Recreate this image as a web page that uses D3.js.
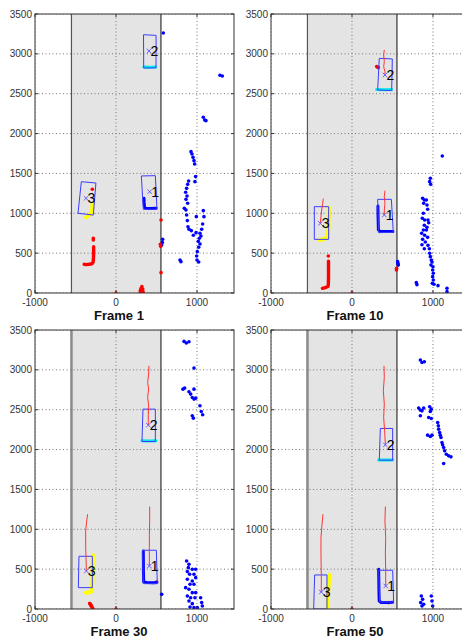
<!DOCTYPE html>
<html>
<head>
<meta charset="utf-8">
<script src="https://cdn.jsdelivr.net/npm/d3@7"></script>
<style>
body { margin: 0; background: #fff; }
svg { display: block; }
text { font-family: Arial, "Liberation Sans", sans-serif; }
</style>
</head>
<body>
<svg id="chart" width="462" height="642"></svg>
<script>
// ---- data (mm) ----
var frameNames = ["Frame 1", "Frame 10", "Frame 30", "Frame 50"];
var xTicks = [-1000, 0, 1000];
var yTicks = [0, 500, 1000, 1500, 2000, 2500, 3000, 3500];
var laneEdges = [-550, 555];

// blue scan points outside the lane
var scanF1 = [[584,3262],[1284,2731],[1313,2723],[1078,2204],[1095,2171],[1111,2162],[926,1773],[938,1744],[951,1702],
  [963,1660],[971,1619],[983,1460],[975,1397],[897,1405],[885,1363],[872,1313],[860,1263],[877,1217],[864,1175],
  [885,1125],[844,1062],[864,1041],[992,958],[872,979],[881,908],[889,832],[901,799],[930,782],[955,724],[988,757],
  [1078,1033],[1086,958],[1070,866],[1058,799],[1037,749],[1049,715],[1029,686],[1016,648],[1037,615],[1021,573],
  [1004,519],[996,464],[1000,414],[1021,389],[790,414],[802,393],[576,673],[572,632],[564,602]];
var scanF10 = [[967,1439],[959,1397],[971,1363],[1115,1719],[872,1188],[893,1167],[885,1125],[918,1167],[926,1104],
  [934,1050],[881,1000],[868,937],[897,916],[938,916],[947,882],[893,849],[926,824],[881,790],[918,790],[860,749],
  [897,724],[934,698],[872,673],[905,640],[864,606],[938,598],[955,556],[893,556],[959,498],[967,456],[979,414],
  [988,389],[975,351],[1000,330],[996,289],[1004,247],[996,205],[1004,163],[992,121],[1012,109],[1062,92],
  [794,130],[802,105],[1173,59],[1173,17],[564,393],[568,370],[572,350]];
var scanF30 = [[840,3357],[868,3336],[901,3353],[963,3022],[827,2758],[848,2771],[901,2725],[922,2696],[963,2758],
  [942,2654],[963,2633],[984,2645],[1037,2549],[1053,2478],[1070,2436],[942,2424],[955,2394],
  [872,603],[901,561],[893,519],[942,498],[984,498],[881,469],[909,435],[963,435],[984,393],[881,373],[942,352],
  [914,310],[963,310],[860,268],[901,247],[942,205],[984,205],[881,163],[922,142],[975,142],[901,100],[942,67],
  [914,25],[963,17],[1004,17],[1045,142],[1058,80],[1066,38],[564,184]];
var scanF50 = [[844,3123],[864,3093],[893,3102],[823,2520],[844,2495],[864,2486],[885,2520],[844,2424],[959,2537],
  [979,2507],[967,2478],[947,2403],[979,2390],[934,2181],[967,2164],[988,2181],[1058,2340],[1066,2298],[1070,2256],
  [1082,2214],[1090,2181],[1099,2152],[1111,2089],[1119,2059],[1132,2026],[1144,1984],[1165,1942],[1193,1921],
  [1222,1909],[1132,1825],[856,163],[872,121],[848,80],[864,38],[885,59],[979,163],[988,100],[996,38]];

// red scan points (isolated returns)
var redF1 = [[-280,685],[-280,665],[300,30],[310,60],[320,80],[330,50],[315,20],[300,10],
  [335,15],[556,916],[548,610],[552,585],[556,255],[-292,1301],[0,0]];
var redF10 = [[-292,464],[551,310],[549,290],[305,2840],[318,2835],[325,2827],[0,0]];
var redF30 = [[-321,67],[-312,50],[-305,38],[-288,8],[502,339],[0,0]];
var redF50 = [[453,80],[0,0]];

// red scan strokes (kerb returns)
var kerbF1 = [[-276,580],[-276,500],[-278,440],[-282,390],[-292,370],[-330,360],[-370,356],[-392,360]];
var kerbF10 = [[-290,400],[-290,300],[-290,200],[-292,110],[-296,82],[-330,68],[-365,58]];
var kerbF30 = [[-325,70],[-312,50],[-296,25],[-290,5]];
var kerbF50 = [];

// vehicle outlines (corners) per frame: track 1, 2, 3
var boxesF1 = [[[313,1468],[486,1472],[506,1050],[337,1050]], [[340,3240],[495,3232],[494,2825],[342,2822]],
  [[-428,1396],[-248,1380],[-280,978],[-469,1000]]];
var boxesF10 = [[[317,1175],[486,1175],[510,761],[329,757]], [[337,2944],[498,2936],[490,2539],[317,2547]],
  [[-465,1083],[-288,1083],[-288,673],[-465,673]]];
var boxesF30 = [[[329,737],[498,737],[510,318],[337,318]], [[333,2507],[486,2507],[486,2101],[321,2101]],
  [[-457,661],[-292,661],[-292,268],[-465,268]]];
var boxesF50 = [[[329,486],[502,486],[514,88],[342,88]], [[350,2265],[502,2265],[502,1867],[337,1867]],
  [[-461,427],[-309,427],[-309,0],[-473,0]]];

// track centres per frame (track 1, 2, 3)
var centresF1 = [[416,1271],[407,3036],[-370,1188]];
var centresF10 = [[399,979],[407,2735],[-391,874]];
var centresF30 = [[412,540],[399,2306],[-366,477]];
var centresF50 = [[416,289],[412,2059],[-379,213]];

// track histories (red lines)
var tracksF1 = [[], [], []];
var tracksF10 = [[[407,1284],[399,1209],[407,1125],[399,1041],[399,979]],
  [[399,3049],[391,2986],[399,2903],[391,2840],[407,2777],[407,2735]],
  [[-354,1184],[-362,1125],[-374,1041],[-383,958],[-391,874]]];
var tracksF30 = [[[416,1285],[416,1105],[412,938],[412,770],[412,540]],
  [[407,3051],[403,2947],[391,2842],[403,2758],[391,2654],[403,2549],[399,2444],[399,2306]],
  [[-350,1189],[-362,1105],[-374,979],[-374,770],[-370,645],[-366,477]]];
var tracksF50 = [[[412,1285],[407,1105],[416,896],[412,686],[416,477],[416,289]],
  [[395,3051],[399,2905],[387,2738],[399,2570],[391,2403],[403,2235],[412,2059]],
  [[-358,1189],[-370,1063],[-383,896],[-383,686],[-379,435],[-379,213]]];

// segmented scans on vehicles: track 1 (blue), track 2 (cyan), track 3 (yellow)
var segF1 = [[[345,1190],[348,1130],[352,1080],[362,1062],[420,1060],[495,1064]],
  [[345,2835],[420,2832],[490,2834]],
  [[-290,1120],[-293,1060],[-300,1020],[-315,995],[-340,972],[-370,950]]];
var segF10 = [[[320,1090],[322,950],[326,790],[345,772],[420,770],[505,772]],
  [[305,2552],[400,2550],[490,2552]],
  [[-288,1075],[-287,1000],[-289,900],[-292,800],[-296,750],[-312,700],[-340,680],[-372,670],[-400,665]]];
var segF30 = [[[337,728],[338,600],[339,450],[342,340],[380,332],[470,330],[505,335]],
  [[321,2110],[410,2108],[494,2110]],
  [[-285,674],[-287,560],[-289,440],[-291,330],[-300,226],[-320,212],[-345,206],[-372,205]]];
var segF50 = [[[329,498],[331,360],[333,220],[336,100],[360,82],[440,80],[500,84]],
  [[329,1870],[420,1868],[502,1870]],
  [[-280,427],[-286,330],[-293,230],[-300,120],[-308,5]]];

var scans = [scanF1, scanF10, scanF30, scanF50];
var reds = [redF1, redF10, redF30, redF50];
var kerbs = [kerbF1, kerbF10, kerbF30, kerbF50];
var boxes = [boxesF1, boxesF10, boxesF30, boxesF50];
var centres = [centresF1, centresF10, centresF30, centresF50];
var tracks = [tracksF1, tracksF10, tracksF30, tracksF50];
var segs = [segF1, segF10, segF30, segF50];

// ---- drawing ----
var panelPos = [[35, 14], [271, 14], [35, 330], [271, 330]];
var pw = 199, ph = 279;
var segColors = ["#0000ff", "#00e8e8", "#ffff00"];
var segWidths = [3, 3, 4];

var svg = d3.select("#chart");

var x = d3.scaleLinear().domain([-1000, 1457]).range([0, pw]);
var y = d3.scaleLinear().domain([0, 3500]).range([ph, 0]);
var line = d3.line().x(function(d) { return x(d[0]); }).y(function(d) { return y(d[1]); });

frameNames.forEach(function(name, i) {
    var g = svg.append("g")
        .attr("transform", "translate(" + panelPos[i][0] + "," + panelPos[i][1] + ")");

    g.append("clipPath").attr("id", "clip" + i)
        .append("rect").attr("width", pw).attr("height", ph);

    var plot = g.append("g").attr("clip-path", "url(#clip" + i + ")");

    // lane
    plot.append("rect")
        .attr("x", x(laneEdges[0])).attr("y", 0)
        .attr("width", x(laneEdges[1]) - x(laneEdges[0])).attr("height", ph)
        .attr("fill", "#e4e4e4");

    // dotted grid
    plot.selectAll(".gx").data(xTicks).enter().append("line")
        .attr("x1", function(d) { return x(d); }).attr("x2", function(d) { return x(d); })
        .attr("y1", 0).attr("y2", ph)
        .attr("stroke", "#777").attr("stroke-dasharray", "1,2.5");
    plot.selectAll(".gy").data(yTicks).enter().append("line")
        .attr("x1", 0).attr("x2", pw)
        .attr("y1", function(d) { return y(d); }).attr("y2", function(d) { return y(d); })
        .attr("stroke", "#777").attr("stroke-dasharray", "1,2.5");

    // lane borders
    plot.append("line")
        .attr("x1", x(laneEdges[0])).attr("x2", x(laneEdges[0])).attr("y1", 0).attr("y2", ph)
        .attr("stroke", i < 2 ? "#555" : "#8a8a8a").attr("stroke-width", i < 2 ? 1.2 : 2.5);
    plot.append("line")
        .attr("x1", x(laneEdges[1])).attr("x2", x(laneEdges[1])).attr("y1", 0).attr("y2", ph)
        .attr("stroke", "#333").attr("stroke-width", 1.2);

    // scan points
    plot.selectAll(".scan").data(scans[i]).enter().append("circle")
        .attr("cx", function(d) { return x(d[0]); }).attr("cy", function(d) { return y(d[1]); })
        .attr("r", 1.8).attr("fill", "#0000ff");
    plot.selectAll(".red").data(reds[i]).enter().append("circle")
        .attr("cx", function(d) { return x(d[0]); }).attr("cy", function(d) { return y(d[1]); })
        .attr("r", 1.8).attr("fill", "#ff0000");
    if (kerbs[i].length) plot.append("path").attr("d", line(kerbs[i]))
        .attr("fill", "none").attr("stroke", "#ff0000").attr("stroke-width", 3.4)
        .attr("stroke-linecap", "round").attr("stroke-linejoin", "round");

    // segmented vehicle scans
    segs[i].forEach(function(s, k) {
        plot.append("path").attr("d", line(s))
            .attr("fill", "none").attr("stroke", segColors[k])
            .attr("stroke-width", segWidths[k]).attr("stroke-linecap", "round").attr("stroke-linejoin", "round");
    });

    // boxes
    boxes[i].forEach(function(b) {
        plot.append("path").attr("d", line(b) + "Z")
            .attr("fill", "none").attr("stroke", "#3c3cff").attr("stroke-width", 1);
    });

    // track history
    tracks[i].forEach(function(t) {
        if (t.length) plot.append("path").attr("d", line(t))
            .attr("fill", "none").attr("stroke", "#ff3535").attr("stroke-width", 1);
    });

    // centres and ids
    centres[i].forEach(function(c, k) {
        var cx = x(c[0]), cy = y(c[1]);
        plot.append("path")
            .attr("d", "M" + (cx - 2.2) + "," + (cy - 2.2) + "L" + (cx + 2.2) + "," + (cy + 2.2) +
                "M" + (cx - 2.2) + "," + (cy + 2.2) + "L" + (cx + 2.2) + "," + (cy - 2.2))
            .attr("stroke", "#6a5cff").attr("stroke-width", 1);
        plot.append("text")
            .attr("x", cx + 1.5).attr("y", cy + 5)
            .attr("font-size", 14).attr("fill", "#000")
            .text(k + 1);
    });

    // axes box and ticks
    g.append("rect").attr("width", pw).attr("height", ph)
        .attr("fill", "none").attr("stroke", "#333").attr("stroke-width", 1);
    g.selectAll(".tx").data(xTicks).enter().append("path")
        .attr("d", function(d) { return "M" + x(d) + "," + ph + "v-3M" + x(d) + ",0v3"; })
        .attr("stroke", "#333");
    g.selectAll(".ty").data(yTicks).enter().append("path")
        .attr("d", function(d) { return "M0," + y(d) + "h3M" + pw + "," + y(d) + "h-3"; })
        .attr("stroke", "#333");

    g.selectAll(".lx").data(xTicks).enter().append("text")
        .attr("x", function(d) { return x(d); }).attr("y", ph + 13)
        .attr("text-anchor", "middle").attr("font-size", 10).attr("fill", "#333")
        .text(function(d) { return d; });
    g.selectAll(".ly").data(yTicks).enter().append("text")
        .attr("x", -3).attr("y", function(d) { return y(d) + 3.5; })
        .attr("text-anchor", "end").attr("font-size", 10).attr("fill", "#333")
        .text(function(d) { return d; });

    g.append("text")
        .attr("x", x(0) + 3).attr("y", ph + 27)
        .attr("text-anchor", "middle").attr("font-size", 13).attr("font-weight", "bold")
        .attr("fill", "#111")
        .text(name);
});
</script>
</body>
</html>
